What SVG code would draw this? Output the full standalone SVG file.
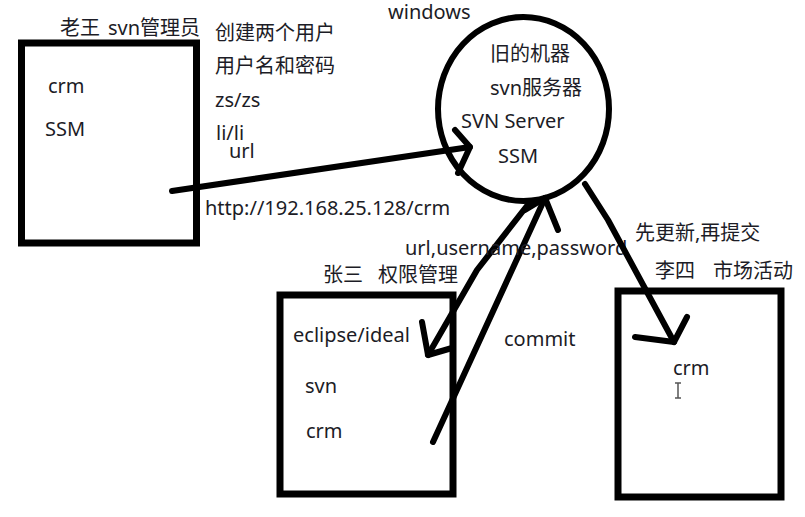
<svg xmlns="http://www.w3.org/2000/svg" width="805" height="517" viewBox="0 0 805 517">
<style>
text{font-family:"Noto Sans","Noto Sans CJK SC",sans-serif;font-size:20px;fill:#1c1c26}
.box{fill:none;stroke:#000;stroke-width:7}
.ln{fill:none;stroke:#000;stroke-width:6;stroke-linecap:round;stroke-linejoin:round}
</style>
<rect width="805" height="517" fill="#fff"/>
<g id="node-laowang">
<rect class="box" x="21.5" y="43" width="175" height="200"/>
<text x="60" y="35">老王 <tspan x="108">svn管理员</tspan></text>
<text x="48" y="93">crm</text>
<text x="45" y="136">SSM</text>
</g>
<g id="notes">
<text x="215" y="40">创建两个用户</text>
<text x="215" y="73">用户名和密码</text>
<text x="215" y="107">zs/zs</text>
<text x="216" y="140">li/li</text>
<text x="229" y="158">url</text>
</g>
<g id="node-server">
<ellipse cx="523.5" cy="109" rx="85.5" ry="92" fill="none" stroke="#000" stroke-width="6"/>
<text x="388" y="19">windows</text>
<text x="490" y="61">旧的机器</text>
<text x="490" y="95">svn服务器</text>
<text x="461" y="128">SVN Server</text>
<text x="498" y="163">SSM</text>
</g>
<g id="node-zhangsan">
<rect class="box" x="280" y="295" width="173" height="199"/>
<text x="323" y="282">张三 <tspan x="378">权限管理</tspan></text>
<text x="293" y="342">eclipse/ideal</text>
<text x="305" y="393">svn</text>
<text x="306" y="438">crm</text>
</g>
<g id="node-lisi">
<rect class="box" x="618" y="291" width="163" height="206"/>
<text x="655" y="278">李四 <tspan x="713">市场活动</tspan></text>
<text x="673" y="375">crm</text>
<path d="M678,383 V398 M675,383 H681 M675,398 H681" stroke="#555" stroke-width="1.5" fill="none"/>
</g>
<g id="connectors">
<path class="ln" d="M172,191 L470,147"/>
<path class="ln" d="M455,130 L470,147 L458,173"/>
<text x="205" y="215">http://192.168.25.128/crm</text>
<path class="ln" d="M530,202 L477,270 L428,355"/>
<path class="ln" d="M422,322 L428,355 L452,348"/>
<path class="ln" d="M433,442 L545,198"/>
<path class="ln" d="M525,210 L545,198 L558,230"/>
<text x="405" y="255">url,username,password</text>
<text x="504" y="346">commit</text>
<path class="ln" d="M585,184 L608,220 L674,342"/>
<path class="ln" d="M687,317 L674,342 L635,337"/>
<text x="635" y="240">先更新,再提交</text>
</g>
</svg>
